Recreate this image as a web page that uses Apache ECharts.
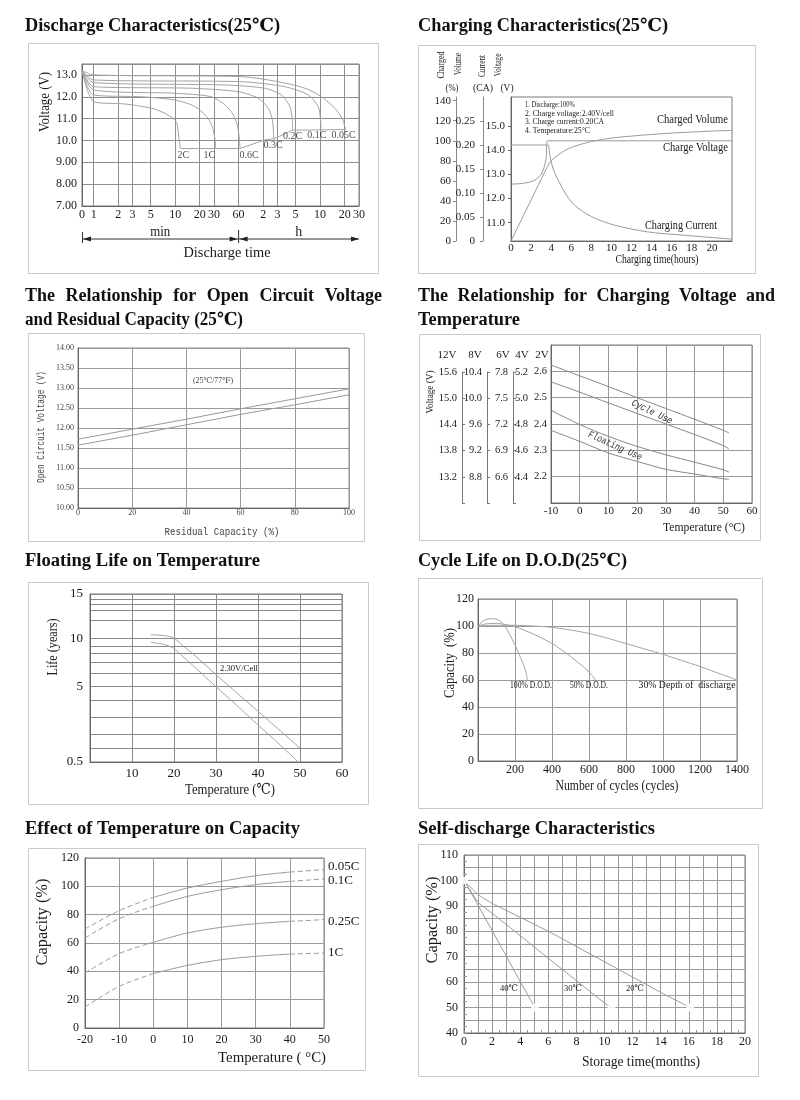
<!DOCTYPE html>
<html><head><meta charset="utf-8">
<script src="https://cdn.jsdelivr.net/npm/echarts@6/dist/echarts.min.js"></script>
<style>html,body{margin:0;padding:0;background:#fff}#c{width:800px;height:1100px}</style>
</head><body><div id="c"></div>
<script>
// ================= DATA =================
// 1. Discharge characteristics: [minutes, volts]
const dischargeTickMinutes = [0,1,2,3,5,10,20,30,60,120,180,300,600,1200,1800];
const dischargeTickLabels  = ['0','1','2','3','5','10','20','30','60','2','3','5','10','20','30'];
const dischargeRates = ['2C','1C','0.6C','0.3C','0.2C','0.1C','0.05C'];
const discharge2C   = [[0,13.2],[1,11.78],[2.4,11.67],[5.2,11.47],[7.5,11.24],[9.5,11.01],[10.5,10.78],[11.2,10.02],[11.6,9.63]];
const discharge1C   = [[0,13.2],[1,12.08],[3.9,12.0],[10,11.85],[17.6,11.55],[24.4,11.09],[28.6,10.63],[30.9,10.02],[31.2,9.63]];
const discharge06C  = [[0,13.2],[1,12.31],[10,12.16],[28,12.0],[41,11.62],[52,11.16],[58.5,10.63],[61.4,10.02],[62.5,9.63]];
const discharge03C  = [[0,13.2],[1,12.46],[16,12.39],[60,12.23],[105,11.93],[139,11.47],[156,10.93],[161,10.32],[163,10.05]];
const discharge02C  = [[0,13.2],[1,12.65],[41,12.54],[126,12.39],[202,12.08],[256,11.55],[273,10.93],[276,10.47]];
const discharge01C  = [[0,13.2],[1,12.77],[65,12.69],[222,12.46],[430,12.08],[569,11.55],[608,10.93],[614,10.5]];
const discharge005C = [[0,13.2],[1,13.0],[65,12.92],[184,12.69],[391,12.39],[625,12.0],[910,11.47],[1119,11.01],[1208,10.63],[1230,10.5]];
const dischargeCutoff = [[11.6,9.63],[62.5,9.63],[124,10.02],[163,10.08],[276,10.47],[1230,10.5]];

// 2. Charging characteristics: [hours, value]
const chargeVolumeTicks  = [0,20,40,60,80,100,120,140];
const chargeCurrentTicks = [0,0.05,0.10,0.15,0.20,0.25];
const chargeVoltageTicks = [11,12,13,14,15];
const chargeVolume  = [[0,0],[1,20.5],[2,41],[3,61.5],[3.7,75.5],[4,80],[5,88],[6,93.3],[8,99.3],[10,102.7],[12,104.7],[14,106.3],[16,107.7],[18,108.7],[20,109.7],[22,110.3]];
const chargeVoltage = [[0,12.6],[1,12.62],[2,12.7],[2.5,12.8],[3,13.0],[3.3,13.3],[3.5,13.7],[3.65,14.4],[22,14.4]];
const chargeCurrent = [[0,0.2],[3.65,0.2],[3.85,0.18],[4.2,0.15],[4.7,0.127],[5.3,0.103],[6.3,0.075],[8,0.051],[10.3,0.033],[13.6,0.019],[16.9,0.0125],[22,0.004]];
const chargeNotes = ['1. Discharge:100%','2. Charge voltage:2.40V/cell','3. Charge current:0.20CA','4. Temperature:25°C'];

// 3. Open circuit voltage vs residual capacity
const ocvCapacity = [0,20,40,60,80,100];
const ocvUpper = [11.72,11.97,12.22,12.48,12.73,12.98];
const ocvLower = [11.57,11.82,12.08,12.34,12.58,12.83];

// 4. Charging voltage vs temperature (2V cell scale)
const cvTemp = [-10,0,10,20,30,40,50,52];
const cycleUpper = [2.624,2.583,2.542,2.500,2.459,2.418,2.376,2.366];
const cycleLower = [2.560,2.521,2.480,2.440,2.400,2.360,2.318,2.305];
const floatUpper = [2.452,2.398,2.353,2.315,2.283,2.255,2.226,2.217];
const floatLower = [2.376,2.334,2.290,2.258,2.228,2.210,2.192,2.190];
const scale12V = [13.2,13.8,14.4,15.0,15.6];
const scale8V  = [8.8,9.2,9.6,10.0,10.4];
const scale6V  = [6.6,6.9,7.2,7.5,7.8];
const scale4V  = [4.4,4.6,4.8,5.0,5.2];
const scale2V  = [2.2,2.3,2.4,2.5,2.6];

// 5. Floating life on temperature: [degC, years]
const lifeGridYears = [0.5,1,2,3,4,5,6,7,8,9,10,11,12,13,14,15];
const lifeTickLabels = [0.5,5,10,15];
const life230Upper = [[14.5,10.22],[18,10.16],[20,10.04],[22,9.13],[25,7.71],[30,5.92],[35,4.53],[40,3.36],[45,2.26],[50,1.0]];
const life230Lower = [[14.5,9.52],[17.8,9.22],[19.8,8.75],[21,8.11],[25,6.54],[30,4.98],[35,3.7],[40,2.54],[45,1.29],[49.6,0.5]];

// 6. Cycle life on D.O.D: [cycles, %]
const dod100 = [[0,100],[30,104],[70,105.5],[110,104.5],[140,101],[170,94],[200,86],[230,76.5],[255,68],[267,60]];
const dod50  = [[0,100],[40,101.5],[100,102],[150,101],[200,99.5],[300,94],[400,87],[500,77.5],[600,66],[635,60]];
const dod30  = [[0,100],[100,100.5],[200,100.5],[300,100],[400,99],[500,97],[600,94.5],[700,91],[800,87],[900,83],[1000,79],[1100,74.5],[1200,70],[1300,65],[1400,60]];

// 7. Effect of temperature on capacity
const capTemp = [-20,-10,0,10,20,30,40,50];
const capRates = ['0.05C','0.1C','0.25C','1C'];
const cap005 = [69.9,82.8,92.2,98.8,103.5,107.5,110.1,111.8];
const cap01  = [63.5,77.2,85.9,92.9,97.6,101.2,103.5,105.2];
const cap025 = [38.8,52.5,60.5,67.1,71.1,73.6,75.3,76.5];
const cap1   = [14.8,29.4,38.4,44.2,48.2,50.6,52.2,52.9];

// 8. Self-discharge: [months, %]
const sd40 = [[0,100],[1,90.2],[2,80.3],[3,70.3],[4,60.2],[5.05,50]];
const sd30 = [[0,100],[1,91.5],[2,87.1],[4,78.3],[6,69.4],[8,60.6],[10,51.8],[10.5,50]];
const sd20 = [[0,100],[1,94.5],[2,91],[4,85.5],[6,80],[8,74],[10,68],[12,62],[14,56],[16.1,50]];

// ================= LAYOUT / HELPERS =================
const FONT = '"Liberation Serif","Times New Roman","DejaVu Serif","Noto Sans CJK SC",serif';
const MONO = '"Liberation Mono","DejaVu Sans Mono",monospace';
const mctx = document.createElement('canvas').getContext('2d');
function measure(t, f){ mctx.font = f; return mctx.measureText(t).width; }
function merge(a, b){
  const o = Object.assign({}, a);
  for (const k in b){
    const v = b[k];
    if (v && typeof v === 'object' && !Array.isArray(v) && o[k] && typeof o[k] === 'object' && !Array.isArray(o[k])) o[k] = merge(o[k], v);
    else o[k] = v;
  }
  return o;
}
function nearest(arr, v){ let bi=0, bd=Infinity; arr.forEach((a,i)=>{const d=Math.abs(a-v); if(d<bd){bd=d;bi=i;}}); return bi; }

const grids=[], xAxes=[], yAxes=[], series=[], G=[];
function addGrid(g){ grids.push(Object.assign({containLabel:false, outerBoundsMode:'none', show:true, borderColor:'#7a7a7a', borderWidth:1, backgroundColor:'transparent'}, g)); return grids.length-1; }
function axis(gi, o){
  return merge({
    type:'value', gridIndex:gi,
    axisLine:{show:true, onZero:false, lineStyle:{color:'#666', width:1}},
    axisTick:{show:false},
    splitLine:{show:true, lineStyle:{color:'#9a9a9a', width:1}},
    axisLabel:{color:'#1a1a1a', fontFamily:FONT, fontSize:12, margin:5},
    splitArea:{show:false}
  }, o || {});
}
function addX(o){ xAxes.push(o); return xAxes.length-1; }
function addY(o){ yAxes.push(o); return yAxes.length-1; }
function line(xi, yi, data, o){
  return merge({type:'line', xAxisIndex:xi, yAxisIndex:yi, data, symbol:'none', silent:true, smooth:0.3,
    lineStyle:{color:'#a3a3a3', width:1}, z:3, clip:false}, o || {});
}
function txt(text, x, y, o){
  o = o || {};
  const size = o.size || 12;
  const fam = o.family || FONT;
  const font = (o.italic?'italic ':'') + (o.bold?'bold ':'') + size + 'px ' + fam;
  let sx = 1;
  if (o.w){ const m = measure(text, font); if (m > 0) sx = o.w / m; }
  const al = o.align || 'center', va = o.va || 'middle';
  G.push({type:'text', silent:true, x, y, rotation:o.rot||0, scaleX:sx, scaleY:1, z:20,
    style:{text, font, fill:o.color||'#1a1a1a', textAlign:al, textVerticalAlign:va, align:al, verticalAlign:va}});
}
function justify(text, x, y, w, size){
  const font = 'bold ' + size + 'px ' + FONT;
  const words = text.split(' ');
  const ws = words.map(t => measure(t, font));
  const gap = (w - ws.reduce((a,b)=>a+b,0)) / (words.length - 1);
  let cx = x;
  words.forEach((t,i)=>{ txt(t, cx, y, {size, bold:true, align:'left', color:'#111'}); cx += ws[i] + gap; });
}
function frame(x,y,w,h){ G.push({type:'rect', silent:true, z:1, shape:{x:x+0.5,y:y+0.5,width:w,height:h}, style:{fill:'none', stroke:'#c9c9c9', lineWidth:1}}); }
function gline(x1,y1,x2,y2,c){ G.push({type:'line', silent:true, z:5, shape:{x1,y1,x2,y2}, style:{stroke:c||'#333', lineWidth:1}}); }
function arrow(xTip, y, dir){ const b = xTip - dir*8; G.push({type:'polygon', silent:true, z:5, shape:{points:[[xTip,y],[b,y-2.5],[b,y+2.5]]}, style:{fill:'#222'}}); }
function title(t, x, y, w){ txt(t, x, y, {size:18, bold:true, align:'left', w, color:'#111'}); }

// ---------- titles & frames ----------
title('Discharge Characteristics(25℃)', 25, 26, 255);
title('Charging Characteristics(25℃)', 418, 26, 250);
justify('The Relationship for Open Circuit Voltage', 25, 296, 357, 18);
title('and Residual Capacity (25℃)', 25, 320, 218);
justify('The Relationship for Charging Voltage and', 418, 296, 357, 18);
title('Temperature', 418, 320, 102);
title('Floating Life on Temperature', 25, 561, 235);
title('Cycle Life on D.O.D(25℃)', 418, 561, 209);
title('Effect of Temperature on Capacity', 25, 829, 275);
title('Self-discharge Characteristics', 418, 829, 237);
frame(28,43,350,230); frame(418,45,337,228);
frame(28,333,336,208); frame(419,334,341,206);
frame(28,582,340,222); frame(418,578,344,230);
frame(28,848,337,222); frame(418,844,340,232);

// ---------- 1. Discharge ----------
const GD = {left:82, top:64, width:277, height:142};
const gD = addGrid(GD);
const D_ZERO = -0.143;
const dLog = t => t <= 0 ? D_ZERO : Math.log10(t);
const D_MAX = dLog(dischargeTickMinutes[dischargeTickMinutes.length-1]);
const dTicks = dischargeTickMinutes.map(dLog);
const xD = addX(axis(gD, {min:D_ZERO, max:D_MAX, splitLine:{lineStyle:{color:'#8e8e8e'}}, axisTick:{customValues:dTicks},
  axisLabel:{customValues:dTicks, formatter:v => dischargeTickLabels[nearest(dTicks, v)], margin:3, fontSize:12}}));
const yD = addY(axis(gD, {min:7, max:13.5, interval:1, splitLine:{lineStyle:{color:'#8e8e8e'}},
  axisLabel:{showMaxLabel:false, formatter:v => v >= 10 ? v.toFixed(1) : v.toFixed(2), margin:5, fontSize:12}}));
const dCurves = [discharge2C, discharge1C, discharge06C, discharge03C, discharge02C, discharge01C, discharge005C];
const dLabelOffsets = [[3,7],[-6,7],[9,7],[-1,6],[0,6],[-4,6],[-2,6]];
dCurves.forEach((c,i)=> series.push(line(xD, yD, c.map(p=>[dLog(p[0]),p[1]]), {name:dischargeRates[i], smooth:0.25})));
series.push(line(xD, yD, dischargeCutoff.map(p=>[dLog(p[0]),p[1]]), {smooth:false}));
series.push({type:'scatter', xAxisIndex:xD, yAxisIndex:yD, symbolSize:0, silent:true, z:6,
  label:{show:true, position:'inside', color:'#1a1a1a', fontFamily:FONT, fontSize:10},
  data:dCurves.map((c,i)=>{const p=c[c.length-1]; return {value:[dLog(p[0]),p[1]], label:{formatter:dischargeRates[i], offset:dLabelOffsets[i]}};})});
{
  const x0 = GD.left, x1 = GD.left + GD.width;
  const xm = x0 + (dLog(60) - D_ZERO) / (D_MAX - D_ZERO) * GD.width;
  const ay = 239;
  gline(x0, ay, x1, ay); gline(x0+0.5, ay-7, x0+0.5, ay+4); gline(xm, ay-9, xm, ay+4);
  arrow(x0+1, ay, -1); arrow(xm-1, ay, 1); arrow(xm+1, ay, -1); arrow(x1, ay, 1);
  txt('min', (x0+xm)/2, 232, {size:14, w:20});
  txt('h', (xm+x1)/2, 232, {size:14});
  txt('Discharge time', 227, 253, {size:15, w:87});
  txt('Voltage (V)', 45, 102, {size:15, rot:Math.PI/2, w:60});
}

// ---------- 2. Charging ----------
const gC = addGrid({left:511, top:97, width:221, height:144});
const xC = addX(axis(gC, {min:0, max:22, interval:2, splitLine:{show:false}, axisLabel:{showMaxLabel:false, fontSize:11, margin:2}}));
const yCVol = addY(axis(gC, {position:'left', offset:55, min:0, max:143.7, splitLine:{show:false},
  axisLine:{lineStyle:{color:'#888'}}, axisTick:{show:true, length:3, customValues:chargeVolumeTicks, lineStyle:{color:'#888'}},
  axisLabel:{customValues:chargeVolumeTicks, fontSize:11, margin:5}}));
const yCCur = addY(axis(gC, {position:'left', offset:28, min:0, max:0.3, splitLine:{show:false},
  axisLine:{lineStyle:{color:'#888'}}, axisTick:{show:true, length:3, customValues:chargeCurrentTicks, lineStyle:{color:'#888'}},
  axisLabel:{customValues:chargeCurrentTicks, formatter:v => v === 0 ? '0' : v.toFixed(2), fontSize:11, margin:8}}));
const yCVolt = addY(axis(gC, {position:'left', offset:0, min:10.236, max:16.22, splitLine:{show:false},
  axisTick:{show:true, length:3, customValues:chargeVoltageTicks},
  axisLabel:{customValues:chargeVoltageTicks, formatter:v => v.toFixed(1), fontSize:11, margin:6}}));
series.push(line(xC, yCVol, chargeVolume, {lineStyle:{color:'#999'}}));
series.push(line(xC, yCVolt, chargeVoltage, {smooth:0.2, lineStyle:{color:'#999'}}));
series.push(line(xC, yCCur, chargeCurrent, {smooth:0.3, lineStyle:{color:'#999'}}));
txt('Charged', 441, 65, {size:10, rot:Math.PI/2, w:27});
txt('Volume', 458, 64, {size:10, rot:Math.PI/2, w:22});
txt('Current', 482, 66, {size:10, rot:Math.PI/2, w:22});
txt('Voltage', 498, 65, {size:10, rot:Math.PI/2, w:23});
txt('(%)', 452, 88, {size:10, w:13});
txt('(CA)', 483, 88, {size:10, w:20});
txt('(V)', 507, 88, {size:10, w:13});
[50,89,79,65].forEach((w,i)=> txt(chargeNotes[i], 525, 105 + i*8.4, {size:9, align:'left', w}));
txt('Charged Volume', 728, 120, {size:12, align:'right', w:71});
txt('Charge Voltage', 728, 148, {size:12, align:'right', w:65});
txt('Charging Current', 717, 226, {size:12, align:'right', w:72});
txt('Charging time(hours)', 657, 260, {size:12, w:83});

// ---------- 3. OCV ----------
const gO = addGrid({left:78, top:348, width:271, height:160, borderColor:'#888'});
const xO = addX(axis(gO, {min:0, max:100, interval:20, axisLabel:{fontSize:8, margin:1, color:'#444'}}));
const yO = addY(axis(gO, {min:10, max:14, interval:0.5, axisLabel:{fontSize:8, margin:4, color:'#444', formatter:v => v.toFixed(2)}}));
series.push(line(xO, yO, ocvCapacity.map((c,i)=>[c, ocvUpper[i]]), {smooth:false, lineStyle:{color:'#999'}}));
series.push(line(xO, yO, ocvCapacity.map((c,i)=>[c, ocvLower[i]]), {smooth:false, lineStyle:{color:'#999'}}));
txt('Open Circuit Voltage (V)', 41, 427, {size:10, family:MONO, rot:Math.PI/2, w:112, color:'#444'});
txt('(25℃/77℉)', 213, 381, {size:8, w:40, color:'#444'});
txt('Residual Capacity (%)', 222, 532, {size:10, family:MONO, w:115, color:'#444'});

// ---------- 4. Charging voltage vs temperature ----------
const gT = addGrid({left:551, top:345, width:201, height:158});
const xT = addX(axis(gT, {min:-10, max:60, interval:10, axisLabel:{fontSize:11, margin:3}}));
const yT = addY(axis(gT, {min:2.1, max:2.7, interval:0.1, axisLabel:{customValues:scale2V, formatter:v => v.toFixed(1), fontSize:10.5, margin:4}}));
const BR = {top:372, height:131, width:14};
// one printed voltage scale per cell count; bracket line drawn on the 12V, 8V and 6V scales
function scaleAxis(left, scale, showLine){
  const g = addGrid({left, top:BR.top, width:BR.width, height:BR.height, show:false});
  addX({type:'value', gridIndex:g, show:false, min:0, max:1});
  const step = scale[1] - scale[0];
  const mn = +(scale[0] - step).toFixed(2), mx = scale[scale.length-1];
  addY(axis(g, {min:mn, max:mx, splitLine:{show:false}, axisLine:{show:showLine, lineStyle:{color:'#777'}},
    axisTick:{show:showLine, inside:true, length:3, customValues:[mn].concat(scale), lineStyle:{color:'#777'}},
    axisLabel:{customValues:scale, formatter:v => v.toFixed(1), fontSize:10.5, margin:5}}));
}
scaleAxis(462, scale12V, true);
scaleAxis(487, scale8V, true);
scaleAxis(513, scale6V, true);
scaleAxis(533, scale4V, false);
series.push(line(xT, yT, cvTemp.map((t,i)=>[t, cycleUpper[i]]), {lineStyle:{color:'#888'}}));
series.push(line(xT, yT, cvTemp.map((t,i)=>[t, cycleLower[i]]), {lineStyle:{color:'#888'}}));
series.push(line(xT, yT, cvTemp.map((t,i)=>[t, floatUpper[i]]), {lineStyle:{color:'#888'}}));
series.push(line(xT, yT, cvTemp.map((t,i)=>[t, floatLower[i]]), {lineStyle:{color:'#888'}}));
txt('Voltage (V)', 430, 392, {size:11, rot:Math.PI/2, w:43});
[['12V',447],['8V',475],['6V',503],['4V',522],['2V',542]].forEach(h => txt(h[0], h[1], 355, {size:11}));
txt('Cycle Use', 652, 412, {size:10, family:MONO, italic:true, rot:-0.45, w:44, color:'#333'});
txt('Floating Use', 615, 446, {size:10, family:MONO, italic:true, rot:-0.42, w:58, color:'#333'});
txt('Temperature (°C)', 704, 528, {size:13, w:82});

// ---------- 5. Floating life ----------
const lifeGridLevel = [0,0.083,0.167,0.266,0.365,0.450,0.526,0.595,0.649,0.689,0.734,0.843,0.903,0.937,0.966,1];
function lifeU(yr){
  const k = lifeGridYears;
  if (yr <= k[0]) return lifeGridLevel[0];
  for (let i=1;i<k.length;i++) if (yr <= k[i]){ const f=(yr-k[i-1])/(k[i]-k[i-1]); return lifeGridLevel[i-1] + f*(lifeGridLevel[i]-lifeGridLevel[i-1]); }
  return 1;
}
const lifeTickU = lifeTickLabels.map(lifeU);
const gL = addGrid({left:90, top:594, width:252, height:168});
const xL = addX(axis(gL, {min:0, max:60, interval:10, splitLine:{lineStyle:{color:'#8a8a8a'}}, axisLabel:{showMinLabel:false, fontSize:13, margin:5}}));
const yL = addY(axis(gL, {min:0, max:1, splitLine:{lineStyle:{color:'#8a8a8a'}}, axisTick:{customValues:lifeGridYears.map(lifeU)},
  axisLabel:{customValues:lifeTickU, formatter:v => String(lifeTickLabels[nearest(lifeTickU, v)]), fontSize:13, margin:7}}));
series.push(line(xL, yL, life230Upper.map(p=>[p[0], lifeU(p[1])]), {smooth:0.15}));
series.push(line(xL, yL, life230Lower.map(p=>[p[0], lifeU(p[1])]), {smooth:0.15}));
txt('Life (years)', 53, 647, {size:15, rot:Math.PI/2, w:57});
txt('2.30V/Cell', 239, 669, {size:9, w:38});
txt('Temperature (℃)', 230, 790, {size:15, w:90});

// ---------- 6. Cycle life ----------
const gY = addGrid({left:478, top:599, width:259, height:162});
const xY = addX(axis(gY, {min:0, max:1400, interval:200, axisLabel:{showMinLabel:false, formatter:v => String(v), fontSize:12, margin:3}}));
const yY = addY(axis(gY, {min:0, max:120, interval:20, axisLabel:{fontSize:12, margin:4}}));
series.push(line(xY, yY, dod100));
series.push(line(xY, yY, dod50));
series.push(line(xY, yY, dod30));
txt('Capacity  (%)', 450, 663, {size:15, rot:Math.PI/2, w:70});
txt('100% D.O.D.', 531, 685, {size:10, w:42});
txt('50% D.O.D.', 589, 685, {size:10, w:38});
txt('30% Depth of  discharge', 687, 685, {size:10, w:97});
txt('Number of cycles (cycles)', 617, 786, {size:14, w:123});

// ---------- 7. Temperature vs capacity ----------
const gE = addGrid({left:85, top:858, width:239, height:170});
const xE = addX(axis(gE, {min:-20, max:50, interval:10, axisLabel:{fontSize:12, margin:6}}));
const yE = addY(axis(gE, {min:0, max:120, interval:20, axisLabel:{fontSize:12, margin:6}}));
const capLabelOffsets = [[0,-3],[0,2],[0,2],[0,0]];
[cap005, cap01, cap025, cap1].forEach((arr,i)=>{
  const pts = capTemp.map((t,j)=>[t, arr[j]]);
  const seg = (a,b) => pts.filter(p => p[0] >= a && p[0] <= b);
  series.push(line(xE, yE, seg(-20,0), {lineStyle:{type:[5,3], color:'#9a9a9a'}}));
  series.push(line(xE, yE, seg(0,40), {lineStyle:{color:'#9a9a9a'}}));
  series.push(line(xE, yE, seg(40,50), {name:capRates[i], lineStyle:{type:[5,3], color:'#9a9a9a'},
    endLabel:{show:true, formatter:capRates[i], distance:4, offset:capLabelOffsets[i], color:'#1a1a1a', fontFamily:FONT, fontSize:13}}));
});
txt('Capacity (%)', 43, 922, {size:16, rot:Math.PI/2, w:87});
txt('Temperature ( °C)', 272, 1058, {size:15, w:108});

// ---------- 8. Self-discharge ----------
const gS = addGrid({left:464, top:855, width:281, height:178});
const xS = addX(axis(gS, {min:0, max:20, interval:1, axisTick:{show:true, inside:true, length:3, lineStyle:{color:'#888'}},
  minorTick:{show:true, splitNumber:2, length:3, lineStyle:{color:'#999'}},
  axisLabel:{formatter:v => v % 2 === 0 ? String(v) : '', fontSize:12, margin:3}}));
const yS = addY(axis(gS, {min:40, max:110, interval:5, axisTick:{show:true, inside:true, length:3, lineStyle:{color:'#888'}},
  minorTick:{show:true, splitNumber:2, length:3, lineStyle:{color:'#999'}},
  axisLabel:{formatter:v => v % 10 === 0 ? String(v) : '', fontSize:12, margin:6}}));
const sdCurves = [sd40, sd30, sd20];
sdCurves.forEach(c => series.push(line(xS, yS, c, {smooth:0.2, lineStyle:{color:'#999'}})));
series.push({type:'scatter', xAxisIndex:xS, yAxisIndex:yS, silent:true, z:6, symbol:'emptyCircle', symbolSize:6,
  itemStyle:{color:'#fff', borderColor:'#999', borderWidth:1},
  data:[sd40[0]].concat(sdCurves.map(c=>c[c.length-1]))});
txt('Capacity (%)', 433, 920, {size:16, rot:Math.PI/2, w:87});
txt('40℃', 509, 989, {size:9, w:18});
txt('30℃', 573, 989, {size:9, w:18});
txt('20℃', 635, 989, {size:9, w:18});
txt('Storage time(months)', 641, 1062, {size:15, w:118});

// ================= RENDER =================
const chart = echarts.init(document.getElementById('c'), null, {renderer:'canvas', width:800, height:1100});
chart.setOption({
  backgroundColor:'#ffffff', animation:false,
  textStyle:{fontFamily:FONT},
  grid:grids, xAxis:xAxes, yAxis:yAxes, series,
  graphic:{elements:G}
});
</script></body></html>
